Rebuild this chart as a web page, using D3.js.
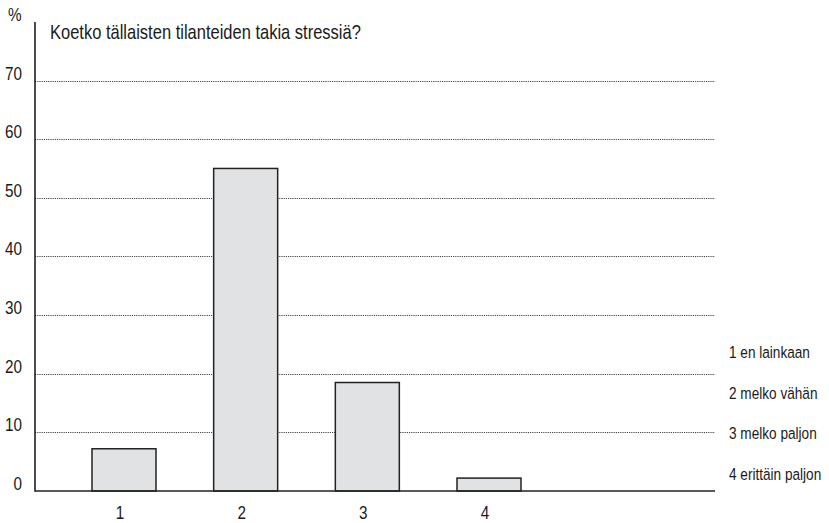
<!DOCTYPE html>
<html>
<head>
<meta charset="utf-8">
<script src="https://cdn.jsdelivr.net/npm/d3@7"></script>
<style>
  html, body { margin: 0; padding: 0; background: #fff; }
  svg { display: block; }
  text { font-family: "Liberation Sans", Arial, sans-serif; fill: #1a1a1a; }
</style>
</head>
<body>
<svg id="chart" width="829" height="523"></svg>
<script>
// Answer distribution, percent of respondents
const categories = ["1", "2", "3", "4"];
const values = [7.2, 55.0, 18.5, 2.2];
const yTicks = [0, 10, 20, 30, 40, 50, 60, 70];
const legendLabels = ["1 en lainkaan", "2 melko vähän", "3 melko paljon", "4 erittäin paljon"];
const title = "Koetko tällaisten tilanteiden takia stressiä?";
const unitLabel = "%";

const svg = d3.select("#chart");

const plot = { left: 35, right: 715, top: 22, bottom: 491 };

const y = d3.scaleLinear().domain([0, 70]).range([plot.bottom, 80.5]);
const x = d3.scaleLinear().domain([1, 4]).range([124, 489]);
const barWidth = 64;

// Condensed lettering: texts are squeezed horizontally around their anchor
let squeeze = 1;
function place(sel, fx, fy) {
  sel.attr("x", 0).attr("y", 0)
    .attr("transform", (d, i) => `translate(${fx(d, i)},${fy(d, i)}) scale(${squeeze},1)`);
  return sel;
}

// Title (measured first to set the squeeze factor)
const titleText = svg.append("text")
  .attr("font-size", 20)
  .text(title);
squeeze = 311 / titleText.node().getComputedTextLength();
place(titleText, () => 50, () => 39);

// Dotted gridlines
svg.append("g")
  .selectAll("line")
  .data(yTicks.filter(t => t > 0))
  .join("line")
  .attr("x1", plot.left)
  .attr("x2", plot.right)
  .attr("y1", d => Math.round(y(d)) + 0.5)
  .attr("y2", d => Math.round(y(d)) + 0.5)
  .attr("stroke", "#444")
  .attr("stroke-width", 1)
  .attr("stroke-dasharray", "1.2,1");

// Y tick labels sit just above their gridline
place(svg.append("g")
  .selectAll("text")
  .data(yTicks)
  .join("text")
  .attr("text-anchor", "end")
  .attr("font-size", 18.5)
  .text(d => d), () => 22, d => y(d) - 1);

place(svg.append("text")
  .attr("font-size", 18.5)
  .text(unitLabel), () => 8, () => 21);

// Bars
svg.append("g")
  .selectAll("rect")
  .data(values)
  .join("rect")
  .attr("x", (d, i) => x(+categories[i]) - barWidth / 2)
  .attr("y", d => y(d))
  .attr("width", barWidth)
  .attr("height", d => y(0) - y(d))
  .attr("fill", "#e1e2e3")
  .attr("stroke", "#222")
  .attr("stroke-width", 1.5);

// Axis lines
svg.append("line")
  .attr("x1", plot.left).attr("x2", plot.left)
  .attr("y1", plot.top).attr("y2", plot.bottom + 0.75)
  .attr("stroke", "#111").attr("stroke-width", 1.5);
svg.append("line")
  .attr("x1", plot.left).attr("x2", plot.right)
  .attr("y1", plot.bottom).attr("y2", plot.bottom)
  .attr("stroke", "#222").attr("stroke-width", 1.5);

// Category labels
place(svg.append("g")
  .selectAll("text")
  .data(categories)
  .join("text")
  .attr("text-anchor", "middle")
  .attr("font-size", 18.5)
  .text(d => d), d => x(+d) - 4, () => 519);

// Answer scale legend
place(svg.append("g")
  .selectAll("text")
  .data(legendLabels)
  .join("text")
  .attr("font-size", 16.5)
  .text(d => d), () => 729, (d, i) => 358 + i * 40.5);
</script>
</body>
</html>
